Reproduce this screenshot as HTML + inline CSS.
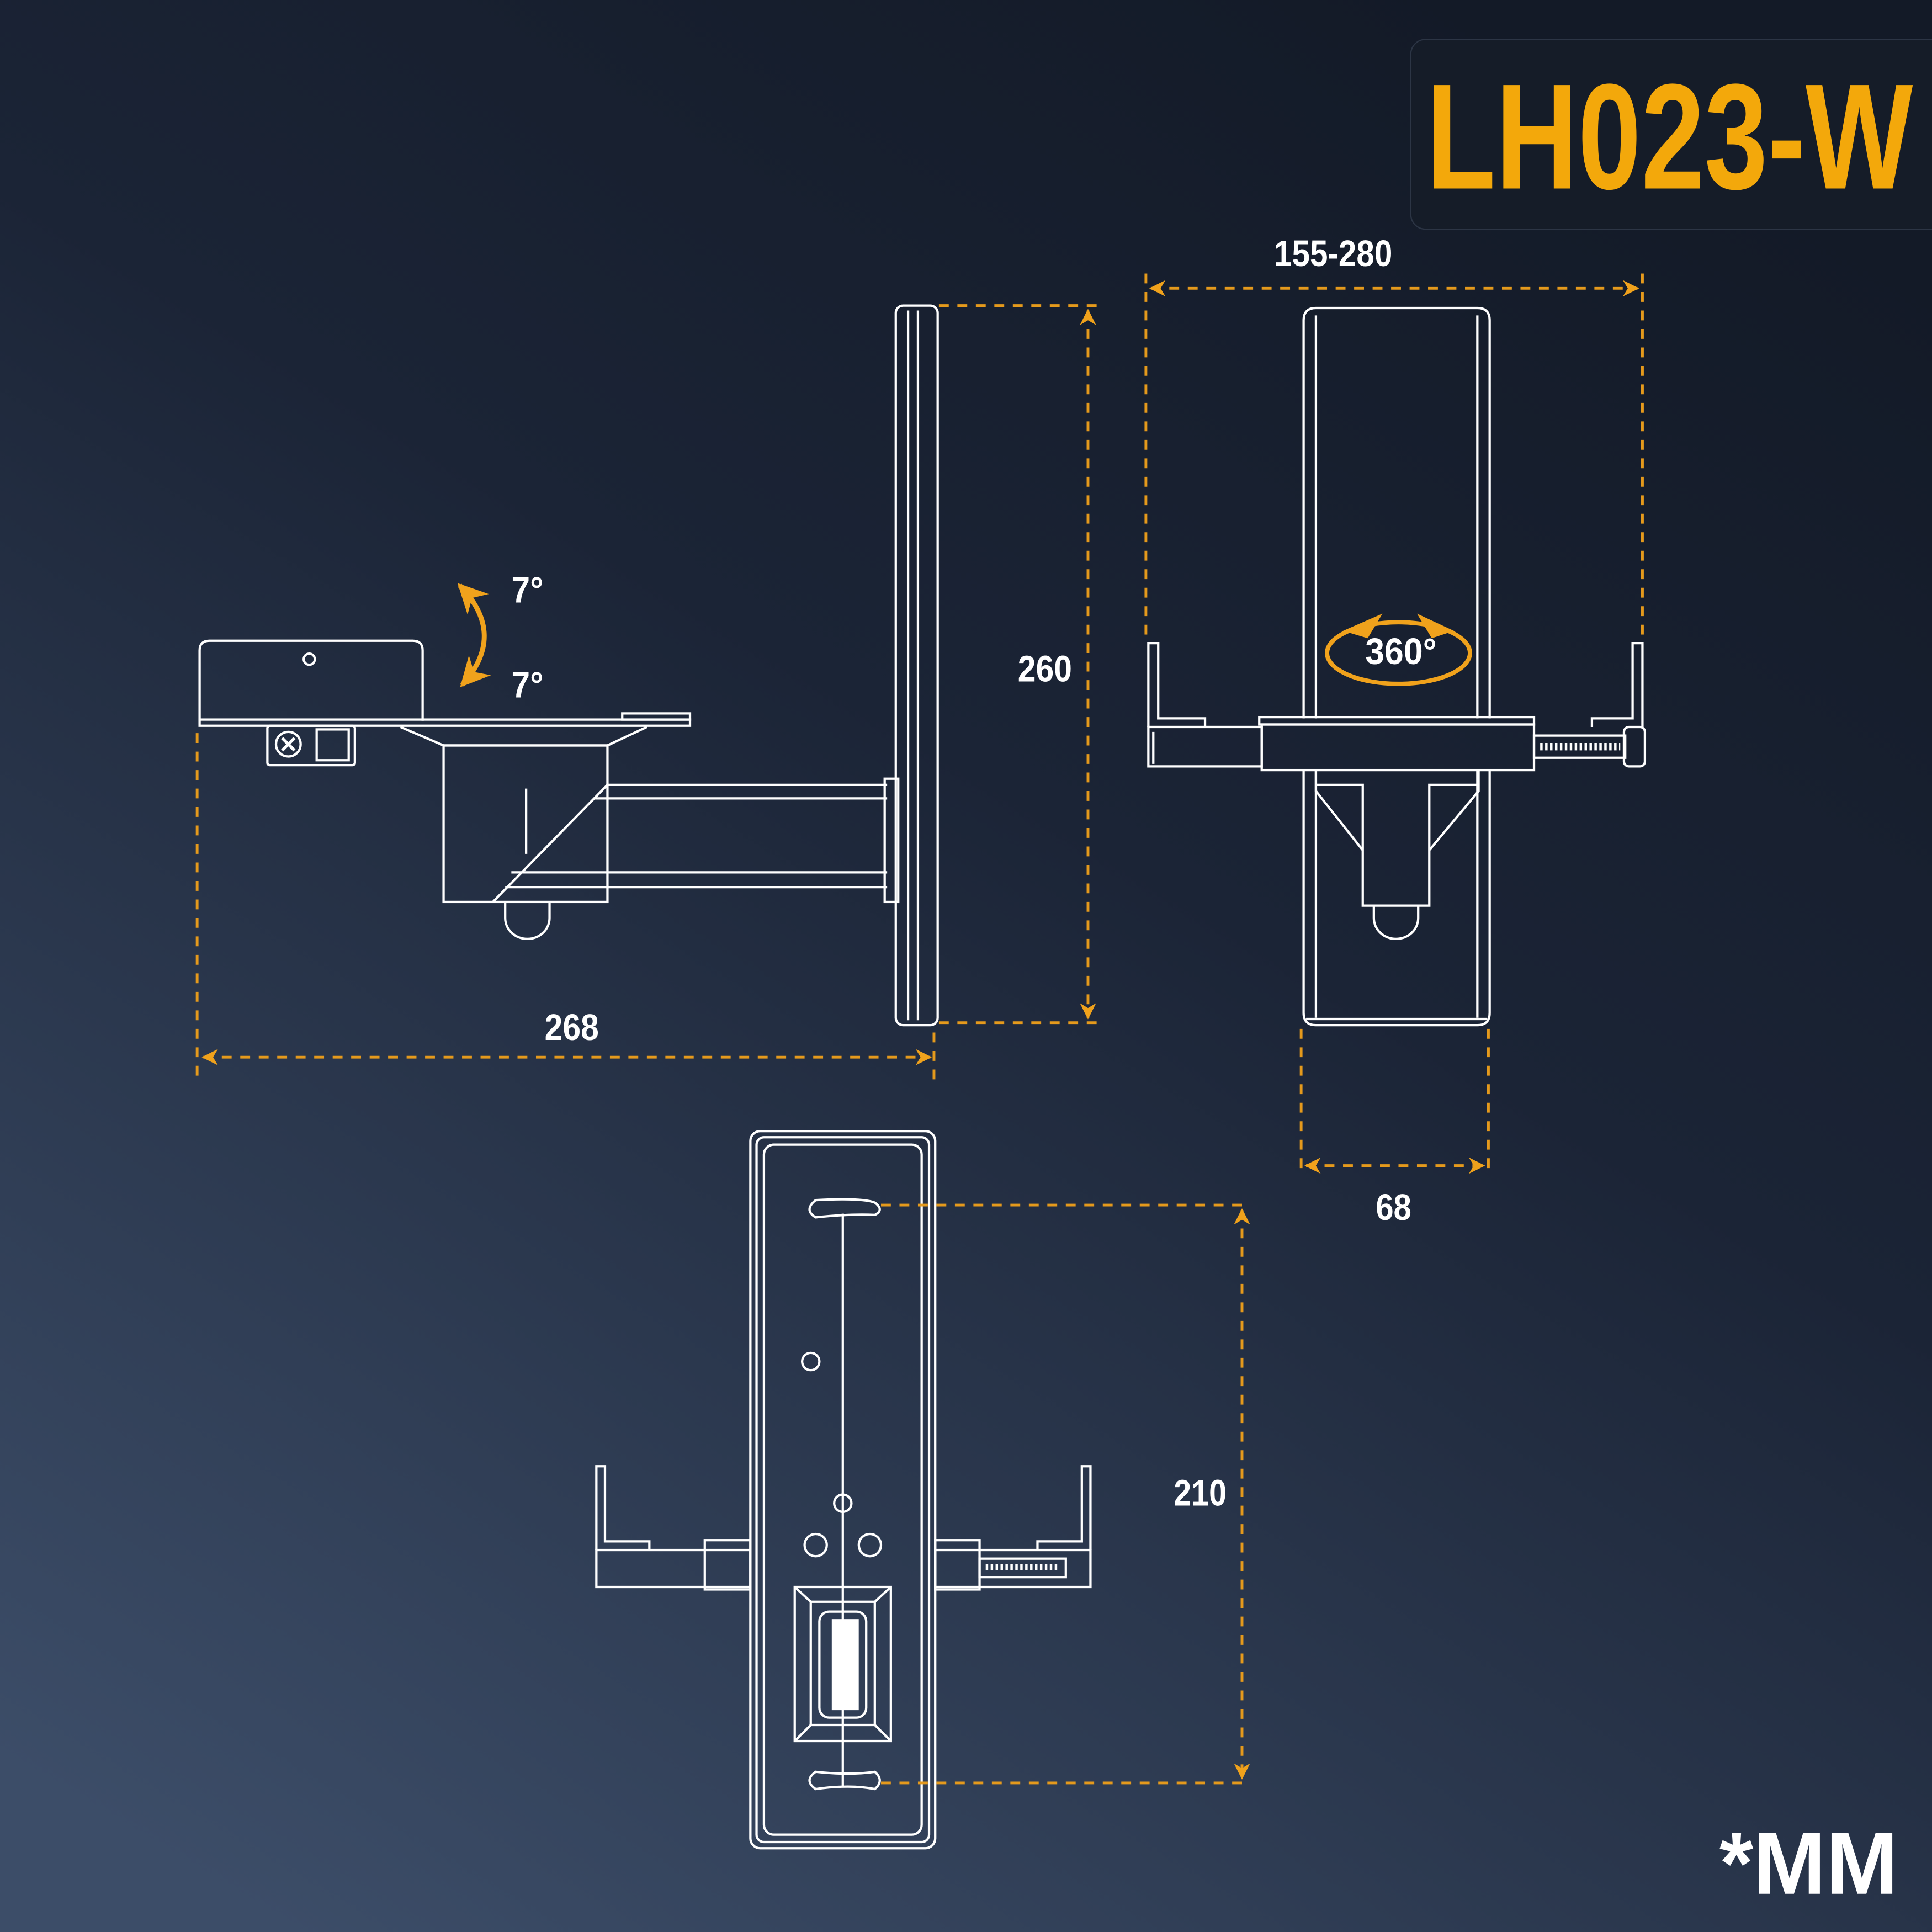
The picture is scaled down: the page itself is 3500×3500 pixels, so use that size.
<!DOCTYPE html>
<html><head><meta charset="utf-8"><style>
html,body{margin:0;padding:0;width:3500px;height:3500px;overflow:hidden;background:#1a2335}
svg{display:block}
.w{fill:none;stroke:#fff;stroke-width:1.9}
.o{fill:none;stroke:#e59a1c;stroke-width:2.2;stroke-dasharray:8 7}
.t{font-family:"Liberation Sans Narrow","Liberation Sans",sans-serif;font-weight:bold;fill:#fff;text-anchor:middle}
</style></head><body>
<svg width="3500" height="3500" viewBox="0 0 1568 1568" xmlns="http://www.w3.org/2000/svg">
<defs>
<linearGradient id="bg" x1="0.75" y1="0" x2="0.15" y2="1">
<stop offset="0" stop-color="#131a27"/><stop offset="0.4" stop-color="#1b2436"/><stop offset="1" stop-color="#3c4d68"/>
</linearGradient>
<marker id="ar" viewBox="0 0 10 10" refX="9" refY="5" markerWidth="6" markerHeight="6" orient="auto-start-reverse"><path d="M0,0 L10,5 L0,10 L3,5z" fill="#f0a21c"/></marker>
</defs>
<rect width="1568" height="1568" fill="url(#bg)"/>
<rect x="1145" y="32" width="440" height="154" rx="12" fill="#151c28" stroke="#2c3545"/>
<text x="1355" y="153" class="t" style="fill:#f3a80b;font-size:122px" textLength="395" lengthAdjust="spacingAndGlyphs">LH023-W</text>
<text x="1468" y="1537" class="t" style="font-size:72px" textLength="145" lengthAdjust="spacingAndGlyphs">*MM</text>

<g class="w">
<rect x="727" y="248" width="34" height="584" rx="6"/>
<line x1="737" y1="252" x2="737" y2="828"/><line x1="745" y1="252" x2="745" y2="828"/>
<path d="M162,585 V528 Q162,520 170,520 H335 Q343,520 343,528 V585"/>
<circle cx="251" cy="535" r="4.5"/>
<rect x="162" y="584" width="398" height="5"/>
<rect x="505" y="579" width="55" height="5"/>
<rect x="217" y="589" width="71" height="32" rx="2"/>
<circle cx="234" cy="604" r="10"/><path d="M229,599 L239,609 M239,599 L229,609" stroke-width="2.5"/>
<rect x="257" y="592" width="26" height="25"/>
<path d="M325,590 L360,605 H493 L525,590"/>
<rect x="360" y="605" width="133" height="127"/>
<line x1="427" y1="640" x2="427" y2="693"/>
<path d="M493,637 H720 M483,648 H720 M400,732 L493,637 M410,720 H720 M415,708 H720"/>
<rect x="718" y="632" width="11" height="100"/>
<path d="M410,732 V745 A18,17 0 0 0 446,745 V732"/>
</g>

<g class="w">
<path d="M1058,583 V260 Q1058,250 1068,250 H1199 Q1209,250 1209,260 V583"/>
<path d="M1058,625 V822 Q1058,832 1068,832 H1199 Q1209,832 1209,822 V625"/>
<line x1="1068" y1="256" x2="1068" y2="583"/><line x1="1199" y1="256" x2="1199" y2="583"/>
<line x1="1068" y1="625" x2="1068" y2="826"/><line x1="1199" y1="625" x2="1199" y2="826"/>
<line x1="1060" y1="827" x2="1207" y2="827"/>
<path d="M932,590 V522 H940 V583 H978 V590"/>
<path d="M1333,590 V522 H1325 V583 H1292 V590"/>
<rect x="932" y="590" width="92" height="32"/>
<line x1="936" y1="594" x2="936" y2="620"/>
<rect x="1022" y="582" width="223" height="6"/>
<rect x="1024" y="588" width="221" height="37"/>
<rect x="1245" y="597" width="74" height="18"/>
<path d="M1250,606 H1315" stroke-dasharray="2 2" stroke-width="6"/>
<rect x="1318" y="590" width="17" height="32" rx="4"/>
<path d="M1068,625 V642 L1106,690 M1200,625 V642 L1160,690"/>
<path d="M1068,637 H1106 V735 H1160 V637 H1200"/>
<path d="M1115,735 V745 A18,17 0 0 0 1151,745 V735"/>
</g>

<g class="w">
<rect x="609" y="918" width="150" height="582" rx="8"/>
<rect x="614" y="923" width="140" height="572" rx="6"/>
<rect x="620" y="929" width="128" height="560" rx="8"/>
<line x1="684" y1="985" x2="684" y2="1450"/>
<path d="M662,974 Q700,972 710,976 Q718,982 710,986 Q690,985 662,988 Q652,982 662,974z"/>
<path d="M662,1438 Q690,1441 710,1438 Q718,1445 710,1452 Q690,1448 662,1452 Q652,1445 662,1438z"/>
<circle cx="658" cy="1105" r="7"/><circle cx="684" cy="1220" r="7"/>
<circle cx="662" cy="1254" r="9"/><circle cx="706" cy="1254" r="9"/>
<rect x="645" y="1288" width="78" height="125"/>
<rect x="658" y="1300" width="52" height="100"/>
<path d="M645,1288 L658,1300 M723,1288 L710,1300 M645,1413 L658,1400 M723,1413 L710,1400"/>
<rect x="665" y="1308" width="38" height="86" rx="8"/>
<rect x="676" y="1315" width="20" height="72" fill="#fff"/>
<path d="M484,1258 V1190 H491 V1251 H527 V1258"/>
<path d="M885,1258 V1190 H878 V1251 H842 V1258"/>
<rect x="484" y="1258" width="125" height="30"/>
<rect x="572" y="1250" width="37" height="40"/>
<rect x="759" y="1258" width="126" height="30"/>
<rect x="759" y="1250" width="36" height="40"/>
<rect x="795" y="1265" width="70" height="15"/>
<path d="M800,1272 H860" stroke-dasharray="2 2" stroke-width="5"/>
</g>

<g>
<line class="o" x1="160" y1="595" x2="160" y2="877"/>
<line class="o" x1="758" y1="838" x2="758" y2="877"/>
<line class="o" x1="165" y1="858" x2="755" y2="858" marker-start="url(#ar)" marker-end="url(#ar)"/>
<line class="o" x1="762" y1="248" x2="890" y2="248"/>
<line class="o" x1="762" y1="830" x2="890" y2="830"/>
<line class="o" x1="883" y1="252" x2="883" y2="826" marker-start="url(#ar)" marker-end="url(#ar)"/>
<line class="o" x1="930" y1="222" x2="930" y2="520"/>
<line class="o" x1="1333" y1="222" x2="1333" y2="520"/>
<line class="o" x1="934" y1="234" x2="1329" y2="234" marker-start="url(#ar)" marker-end="url(#ar)"/>
<line class="o" x1="1056" y1="835" x2="1056" y2="950"/>
<line class="o" x1="1208" y1="835" x2="1208" y2="950"/>
<line class="o" x1="1060" y1="946" x2="1204" y2="946" marker-start="url(#ar)" marker-end="url(#ar)"/>
<line class="o" x1="715" y1="978" x2="1013" y2="978"/>
<line class="o" x1="715" y1="1447" x2="1013" y2="1447"/>
<line class="o" x1="1008" y1="982" x2="1008" y2="1443" marker-start="url(#ar)" marker-end="url(#ar)"/>
<path d="M373,475 Q412,515 375,556" fill="none" stroke="#f0a21c" stroke-width="4" marker-start="url(#ar)" marker-end="url(#ar)"/>
<ellipse cx="1135" cy="530" rx="58" ry="25" fill="none" stroke="#f0a21c" stroke-width="3.5"/>
<path d="M1090,512 L1122,498 L1110,518z M1180,512 L1150,498 L1162,518z" fill="#f0a21c"/>
</g>
<g class="t" style="font-size:30px">
<text x="464" y="844" textLength="44" lengthAdjust="spacingAndGlyphs">268</text>
<text x="848" y="553" textLength="44" lengthAdjust="spacingAndGlyphs">260</text>
<text x="1082" y="216" textLength="96" lengthAdjust="spacingAndGlyphs">155-280</text>
<text x="1131" y="990" textLength="29" lengthAdjust="spacingAndGlyphs">68</text>
<text x="974" y="1222" textLength="43" lengthAdjust="spacingAndGlyphs">210</text>
<text x="428" y="489" textLength="26" lengthAdjust="spacingAndGlyphs">7°</text>
<text x="428" y="566" textLength="26" lengthAdjust="spacingAndGlyphs">7°</text>
<text x="1137" y="539" textLength="58" lengthAdjust="spacingAndGlyphs">360°</text>
</g>
</svg>
</body></html>
